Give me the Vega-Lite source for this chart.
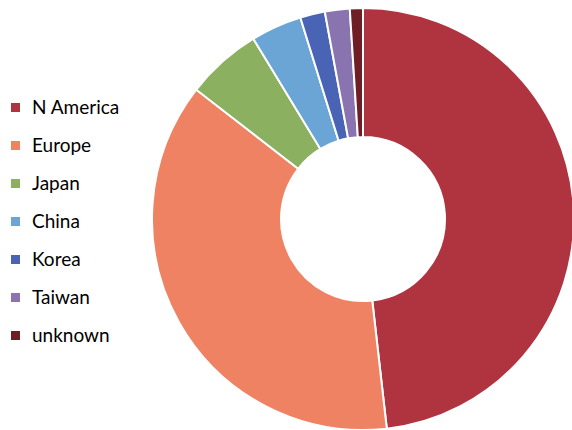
{
  "$schema": "https://vega.github.io/schema/vega-lite/v6.json",
  "width": 418,
  "height": 430,
  "autosize": {"type": "none"},
  "padding": {"left": 154, "top": 4, "right": 0, "bottom": 0},
  "background": "white",
  "data": {
    "values": [
      {"region": "N America", "share": 48.2, "k": 1},
      {"region": "Europe", "share": 37.3, "k": 2},
      {"region": "Japan", "share": 5.8, "k": 3},
      {"region": "China", "share": 3.9, "k": 4},
      {"region": "Korea", "share": 1.9, "k": 5},
      {"region": "Taiwan", "share": 1.9, "k": 6},
      {"region": "unknown", "share": 1.0, "k": 7}
    ]
  },
  "mark": {"type": "arc", "outerRadius": 211, "innerRadius": 82, "stroke": "white", "strokeWidth": 2},
  "encoding": {
    "theta": {"field": "share", "type": "quantitative", "stack": true},
    "order": {"field": "k", "type": "quantitative"},
    "color": {
      "field": "region",
      "type": "nominal",
      "sort": ["N America", "Europe", "Japan", "China", "Korea", "Taiwan", "unknown"],
      "scale": {
        "domain": ["N America", "Europe", "Japan", "China", "Korea", "Taiwan", "unknown"],
        "range": ["#B03340", "#EE8262", "#8BB060", "#6AA5D6", "#4A64B5", "#8A74B0", "#6E1E24"]
      },
      "legend": {
        "title": null,
        "orient": "none",
        "legendX": -148,
        "legendY": 94,
        "symbolType": "square",
        "symbolSize": 81,
        "symbolStrokeWidth": 0,
        "labelFont": "Lato",
        "labelFontSize": 19,
        "labelColor": "#000000",
        "labelOffset": 7,
        "rowPadding": 18
      }
    }
  },
  "config": {"view": {"stroke": null}}
}
